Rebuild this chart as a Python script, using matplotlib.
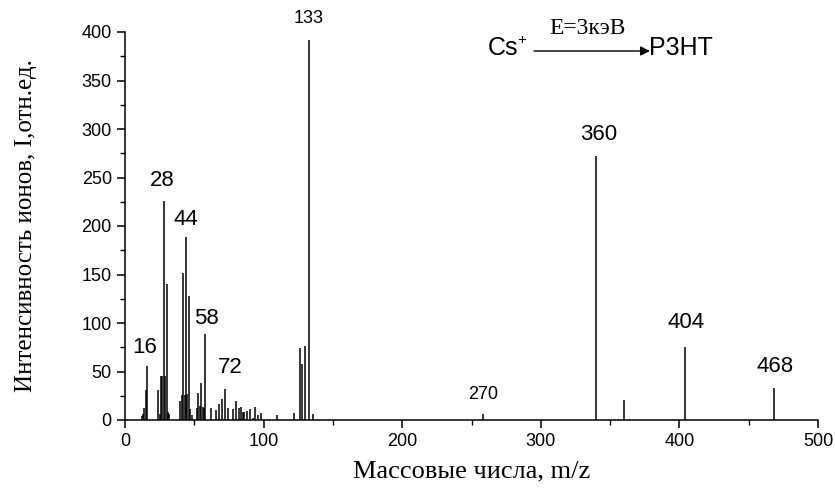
import numpy as np
import matplotlib
matplotlib.use("Agg")
import matplotlib.pyplot as plt
from matplotlib.ticker import MultipleLocator

# масса / интенсивность пиков
masses = [12, 13, 14, 15, 16, 24, 25, 26, 27, 28, 29, 30, 31, 32,
          40, 41, 42, 43, 44, 45, 46, 47, 48,
          52, 53, 54, 55, 56, 57, 58, 62, 66, 68, 70, 72, 74, 78, 80,
          82, 84, 85, 86, 88, 90, 92, 94, 96, 98, 110, 122,
          126, 128, 130, 133, 136, 258, 340, 360, 404, 468]
intens = [4, 6, 12, 31, 56, 31, 6, 45, 45, 226, 45, 140, 8, 6,
          20, 26, 152, 26, 189, 27, 128, 11, 5,
          12, 28, 14, 38, 13, 12, 89, 12, 10, 16, 22, 32, 12, 11, 20,
          12, 13, 8, 8, 9, 11, 2, 13, 5, 7, 5, 7,
          74, 58, 76, 392, 6, 6, 272, 21, 75, 33]

# подписи пиков: текст, x, y (центр, в координатах данных)
big_labels = ["16", "28", "44", "58", "72", "360", "404", "468"]
big_x = [14.5, 26.7, 43.7, 59, 76, 342, 405, 469]
big_y = [75, 247, 207, 105, 54, 294, 101, 55]
small_labels = ["133", "270"]
small_x = [132.7, 258.5]
small_y = [414, 26]

plt.rcParams['font.family'] = ['Liberation Sans', 'DejaVu Sans']

fig = plt.figure(figsize=(8.35, 4.92), dpi=100)
ax = fig.add_axes([125/835, 1-420/492, 693/835, 388/492])

ax.vlines(masses, 0, intens, colors='black', linewidth=1.1)

for t, x, y in zip(big_labels, big_x, big_y):
    ax.text(x, y, t, fontsize=16, ha='center', va='center')
for t, x, y in zip(small_labels, small_x, small_y):
    ax.text(x, y, t, fontsize=13, ha='center', va='center')

ax.set_xlim(0, 500)
ax.set_ylim(0, 400)
ax.xaxis.set_major_locator(MultipleLocator(100))
ax.xaxis.set_minor_locator(MultipleLocator(50))
ax.yaxis.set_major_locator(MultipleLocator(50))
ax.yaxis.set_minor_locator(MultipleLocator(25))
ax.tick_params(which='major', direction='out', length=6, width=1.1, labelsize=13)
ax.tick_params(which='minor', direction='out', length=3.5, width=1.0)
for s in ['top', 'right']:
    ax.spines[s].set_visible(False)
for s in ['left', 'bottom']:
    ax.spines[s].set_linewidth(1.1)

ax.set_xlabel("Массовые числа, m/z", family='Liberation Serif', fontsize=19)
ax.set_ylabel("Интенсивность ионов, I,отн.ед.", family='Liberation Serif', fontsize=18)
ax.xaxis.set_label_coords(0.5, -40/388)
ax.yaxis.set_label_coords(-88/693, 0.5)

# схема Cs+ --E=3кэВ--> P3HT
W, H = 835, 492
fig.text(488/W, 1-48/H, "Cs", fontsize=18, ha='left', va='center')
fig.text(517/W, 1-40/H, "+", fontsize=11, ha='left', va='center')
ax.annotate("", xy=(650/W, 1-51/H), xytext=(534/W, 1-51/H),
            xycoords='figure fraction', textcoords='figure fraction',
            arrowprops=dict(arrowstyle='-|>', color='black', lw=1.0,
                            mutation_scale=14, shrinkA=0, shrinkB=0))
fig.text(588/W, 1-28/H, "E=3кэВ", family='Liberation Serif', fontsize=17, ha='center', va='center')
fig.text(649/W, 1-48/H, "P3HT", fontsize=18, ha='left', va='center')

fig.savefig("out.png", dpi=100)
